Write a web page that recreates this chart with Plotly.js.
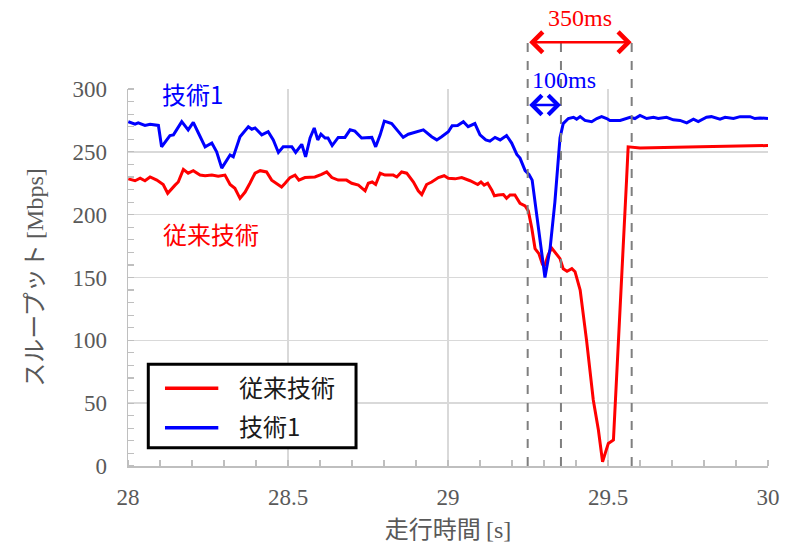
<!DOCTYPE html>
<html>
<head>
<meta charset="utf-8">
<script src="https://cdn.plot.ly/plotly-3.0.1.min.js"></script>
<style>
  html, body { margin: 0; padding: 0; background: #ffffff; }
  #chart { width: 800px; height: 554px; }
</style>
</head>
<body>
<div id="chart"></div>
<script>
// ---- Data ----
const seriesNames = ['従来技術', '技術1'];

const tech1Time = [28.001, 28.022, 28.032, 28.053, 28.069, 28.090, 28.095, 28.105, 28.131, 28.142,
  28.168, 28.188, 28.204, 28.220, 28.241, 28.262, 28.277, 28.293, 28.303, 28.319,
  28.329, 28.350, 28.376, 28.387, 28.397, 28.418, 28.438, 28.454, 28.470, 28.485,
  28.512, 28.524, 28.543, 28.555, 28.569, 28.582, 28.593, 28.603, 28.616, 28.625,
  28.638, 28.657, 28.678, 28.694, 28.709, 28.730, 28.762, 28.774, 28.788, 28.801,
  28.824, 28.840, 28.860, 28.876, 28.892, 28.905, 28.923, 28.949, 28.965, 28.980,
  29.001, 29.013, 29.030, 29.048, 29.063, 29.084, 29.100, 29.118, 29.131, 29.147,
  29.163, 29.183, 29.199, 29.215, 29.225, 29.241, 29.253, 29.263, 29.277, 29.293,
  29.303, 29.319, 29.334, 29.350, 29.360, 29.376, 29.392, 29.402, 29.413, 29.428,
  29.449, 29.465, 29.480, 29.496, 29.506, 29.538, 29.569, 29.584, 29.600, 29.621,
  29.642, 29.657, 29.683, 29.704, 29.725, 29.746, 29.767, 29.782, 29.808, 29.823,
  29.850, 29.866, 29.892, 29.913, 29.944, 29.959, 29.975, 30.000];
const tech1Mbps = [274, 272, 273, 271, 272, 271, 271, 254, 263, 263.5,
  274, 267.5, 273.5, 265, 254, 257, 250, 237, 241, 247.5,
  246, 262, 270, 268, 269, 263.5, 266, 259.5, 249.5, 254,
  254, 249.5, 256, 246, 261, 269, 259.5, 264, 261, 261,
  255, 261.5, 261.5, 267.5, 266.5, 261, 261.5, 254, 263.5, 274.5,
  272.5, 267.5, 261.5, 264, 265, 266, 267.5, 262, 259.5, 262,
  266, 270.8, 271, 274, 270, 272.5, 263.5, 259.5, 258.5, 261.5,
  259.5, 263, 257, 248, 245, 235, 232, 227.5, 200, 169,
  150, 173, 210, 261, 272.5, 276.5, 277.5, 276, 278, 275,
  274, 276.5, 278, 276.5, 275, 275, 277.5, 276.5, 279, 276.5,
  277.5, 276.5, 277.5, 275.5, 275, 273, 276, 274, 277.5, 278,
  276, 277.5, 276.5, 278, 278, 276.5, 277, 276.5];

const convTime = [28.001, 28.022, 28.038, 28.053, 28.069, 28.090, 28.110, 28.124, 28.147, 28.157,
  28.173, 28.188, 28.204, 28.225, 28.241, 28.262, 28.282, 28.303, 28.319, 28.334,
  28.350, 28.366, 28.381, 28.397, 28.413, 28.433, 28.449, 28.480, 28.491, 28.506,
  28.522, 28.534, 28.553, 28.584, 28.605, 28.621, 28.637, 28.657, 28.683, 28.699,
  28.720, 28.741, 28.751, 28.763, 28.774, 28.788, 28.803, 28.829, 28.840, 28.855,
  28.871, 28.892, 28.907, 28.918, 28.933, 28.949, 28.970, 28.988, 29.001, 29.022,
  29.043, 29.069, 29.093, 29.103, 29.113, 29.124, 29.137, 29.145, 29.157, 29.173,
  29.183, 29.194, 29.209, 29.225, 29.241, 29.251, 29.262, 29.272, 29.284, 29.295,
  29.303, 29.313, 29.324, 29.340, 29.350, 29.360, 29.372, 29.387, 29.397, 29.413,
  29.433, 29.454, 29.470, 29.483, 29.501, 29.517, 29.538, 29.558, 29.563, 29.600,
  29.788, 30.000];
const convMbps = [228.5, 227, 229, 227, 230, 227.5, 224, 217, 223.5, 226,
  236, 233, 235, 231.5, 231, 231.5, 230.5, 231.5, 224, 221,
  213, 218, 225, 233, 235, 234, 227.5, 222, 225, 229.5,
  231.5, 227.5, 229.5, 230, 232, 234, 229.5, 227.5, 227.5, 225,
  223.5, 219, 225, 226, 224, 233, 231.5, 231.5, 230, 234,
  233, 226, 219, 216, 224, 226, 229.5, 231, 229, 228.5,
  229.5, 227, 224, 226, 223.5, 225, 219.5, 215, 215.7, 216,
  213, 215.7, 215.7, 209, 207, 203, 189, 173, 169, 160.5,
  160, 168, 173.5, 168, 165, 157, 155, 157, 154.6, 140,
  100, 52.5, 28.6, 3.4, 18, 20.7, 121.5, 227.6, 254, 253,
  254, 255];

const xTickVals = [28, 28.5, 29, 29.5, 30];
const xTickText = ['28', '28.5', '29', '29.5', '30'];
const yTickVals = [0, 50, 100, 150, 200, 250, 300];

// marker times of the recovery intervals (s)
const markStart = 29.249;
const markTech1End = 29.353;
const markConvEnd = 29.574;
const intervalLabels = ['350ms', '100ms'];

// ---- Styles ----
const JP = 'Noto Sans CJK JP';
const SERIF = '"Liberation Serif", "Times New Roman", serif';
const GRAY_TXT = '#595959';
const RED = '#ff0000';
const BLUE = '#0000ff';

const traces = [
  { x: convTime, y: convMbps, name: seriesNames[0], type: 'scatter', mode: 'lines',
    line: { color: RED, width: 3 }, showlegend: false },
  { x: tech1Time, y: tech1Mbps, name: seriesNames[1], type: 'scatter', mode: 'lines',
    line: { color: BLUE, width: 3 }, showlegend: false }
];

const topY = 1.124;

const shapes = [markStart, markTech1End, markConvEnd].map(v => ({
  type: 'line', xref: 'x', yref: 'paper', x0: v, x1: v, y0: 0, y1: topY,
  line: { color: '#7f7f7f', width: 2, dash: 'dash' }, layer: 'above'
}));

// legend box (drawn as a framed key)
const legendRows = [0.2065, 0.1015];
const legendColors = [RED, BLUE];
shapes.push({ type: 'rect', xref: 'paper', yref: 'paper', x0: 0.0317, x1: 0.3563, y0: 0.0485, y1: 0.2700,
  line: { color: '#000000', width: 3 }, fillcolor: '#ffffff', layer: 'above' });
legendRows.forEach((ry, i) => shapes.push({ type: 'line', xref: 'paper', yref: 'paper',
  x0: 0.0578, x1: 0.1411, y0: ry, y1: ry, line: { color: legendColors[i], width: 3.5 }, layer: 'above' }));

const annotations = [
  { x: markConvEnd, y: topY, xref: 'x', yref: 'paper', ax: markStart, axref: 'x', ay: 0, ayref: 'pixel',
    text: '', showarrow: true, arrowhead: 4, arrowside: 'end+start', arrowsize: 1.6, arrowwidth: 2.5, arrowcolor: RED },
  { x: markTech1End, y: 0.9576, xref: 'x', yref: 'paper', ax: markStart, axref: 'x', ay: 0, ayref: 'pixel',
    text: '', showarrow: true, arrowhead: 4, arrowside: 'end+start', arrowsize: 1.5, arrowwidth: 2.5, arrowcolor: BLUE },
  { x: 29.4125, y: 1.188, xref: 'x', yref: 'paper', xanchor: 'center', yanchor: 'middle', text: intervalLabels[0],
    showarrow: false, font: { family: SERIF, size: 24, color: RED } },
  { x: 29.3625, y: 1.024, xref: 'x', yref: 'paper', xanchor: 'center', yanchor: 'middle', text: intervalLabels[1],
    showarrow: false, font: { family: SERIF, size: 24, color: BLUE } },
  { x: 28.203, y: 296.5, xref: 'x', yref: 'y', xanchor: 'center', yanchor: 'middle', text: seriesNames[1],
    showarrow: false, font: { family: JP, size: 24, color: BLUE } },
  { x: 28.259, y: 185.4, xref: 'x', yref: 'y', xanchor: 'center', yanchor: 'middle', text: seriesNames[0],
    showarrow: false, font: { family: JP, size: 24, color: RED } },
  // legend labels
  { x: 0.1703, y: legendRows[0] + 0.005, xref: 'paper', yref: 'paper', xanchor: 'left', yanchor: 'middle',
    text: seriesNames[0], showarrow: false, font: { family: JP, size: 24, color: '#1a1a1a' } },
  { x: 0.1703, y: legendRows[1] + 0.005, xref: 'paper', yref: 'paper', xanchor: 'left', yanchor: 'middle',
    text: seriesNames[1], showarrow: false, font: { family: JP, size: 24, color: '#1a1a1a' } }
];

const layout = {
  width: 800, height: 554,
  margin: { l: 128, r: 32, t: 89, b: 88 },
  paper_bgcolor: '#ffffff', plot_bgcolor: '#ffffff',
  font: { family: SERIF, size: 23, color: GRAY_TXT },
  showlegend: false,
  xaxis: {
    range: [28, 30], tickvals: xTickVals, ticktext: xTickText,
    showgrid: true, gridcolor: '#d9d9d9', gridwidth: 1.5,
    showline: true, linecolor: '#bfbfbf', linewidth: 1.5,
    zeroline: false, ticks: '', ticklabelstandoff: 10,
    tickfont: { family: SERIF, size: 23, color: GRAY_TXT },
    minor: { dtick: 0.1, tick0: 28, ticks: 'inside', ticklen: 6, tickcolor: '#bfbfbf', tickwidth: 1.2, showgrid: false },
    title: { text: '走行時間 <span style="font-family:Liberation Serif">[s]</span>', standoff: 12,
      font: { family: JP, size: 24, color: GRAY_TXT } }
  },
  yaxis: {
    range: [0, 300], tickvals: yTickVals,
    showgrid: true, gridcolor: '#d9d9d9', gridwidth: 1.5,
    showline: true, linecolor: '#bfbfbf', linewidth: 1.5,
    zeroline: false, ticks: '', ticklabelstandoff: 15,
    tickfont: { family: SERIF, size: 23, color: GRAY_TXT },
    minor: { dtick: 10, tick0: 0, ticks: 'inside', ticklen: 6, tickcolor: '#bfbfbf', tickwidth: 1.2, showgrid: false },
    title: { text: 'スループット <span style="font-family:Liberation Serif">[Mbps]</span>', standoff: 22,
      font: { family: JP, size: 24, color: GRAY_TXT } }
  },
  shapes: shapes,
  annotations: annotations
};

Plotly.newPlot('chart', traces, layout, { staticPlot: true, displayModeBar: false });
</script>
</body>
</html>
